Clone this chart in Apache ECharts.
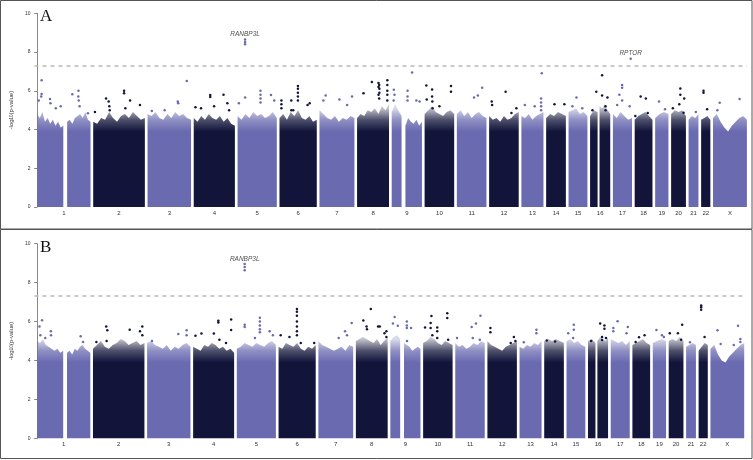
<!DOCTYPE html>
<html>
<head>
<meta charset="utf-8">
<script src="https://cdn.jsdelivr.net/npm/echarts@6/dist/echarts.min.js"></script>
<style>
  html, body { margin: 0; padding: 0; background: #fff; }
  #chart { width: 753px; height: 460px; }
</style>
</head>
<body>
<div id="chart"></div>
<script>
// chromosomes and the span of markers plotted on each (Mb)
const chromosomes = ['1','2','3','4','5','6','7','8','9','10','11','12','13','14','15','16','17','18','19','20','21','22','X'];
const chrLengthsMb = [249, 241, 203, 192, 183, 174, 163, 149, 141, 138, 138, 138, 103, 92, 88, 94, 89, 83, 62, 69, 46, 43, 158];
// stretches with no markers (centromeres), [chr, from Mb, to Mb]
const centromereGaps = [['1', 122, 140], ['9', 46, 64], ['16', 35, 44]];
const genomeWideThreshold = 7.3;
const yTicks = [0, 2, 4, 6, 8, 10];

// upper edge of the dense band of markers, per chromosome arm (1p,1q,2..8,9p,9q,10..15,16p,16q,17..22,X)
const bandTopA = [
  [4.8,4.6,4.9,4.4,4.6,4.3,4.5,4.2,4.4,4.1,4.2],
  [4.4,4.5,4.3,4.6,4.7,4.8,4.6,4.9,4.5,4.4],
  [4.4,4.3,4.6,4.5,4.9,4.6,4.4,4.7,4.8,4.6,4.9,4.7,4.5,4.6],
  [4.8,4.7,4.9,4.6,4.5,4.8,4.6,4.9,4.7,4.8,4.6,4.5],
  [4.6,4.4,4.7,4.5,4.8,4.6,4.5,4.7,4.4,4.6,4.3,4.2],
  [4.7,4.5,4.8,4.6,4.9,4.7,4.8,4.6,4.7,4.9,4.6],
  [4.6,4.8,4.5,4.9,4.7,5.0,4.6,4.5,4.7,4.4,4.5],
  [5.0,4.8,4.6,4.5,4.7,4.4,4.6,4.5,4.7,4.6],
  [4.6,4.8,4.7,5.0,4.9,5.1,4.8,5.2,5.0,5.3],
  [4.9,5.3,5.0,4.7],
  [4.2,4.6,4.4,4.3,4.5,4.2,4.4],
  [4.8,5.0,5.2,4.9,4.8,4.7,4.9,5.0,4.8],
  [4.8,5.0,4.7,4.9,4.6,4.8,4.9,4.7,4.6],
  [4.7,4.5,4.6,4.4,4.7,4.5,4.6,4.8,4.9],
  [4.7,4.6,4.8,4.5,4.7,4.8,4.9],
  [4.6,4.8,4.7,4.9,4.8,4.7],
  [4.9,5.0,5.1,4.8,4.9,4.7],
  [4.7,5.0,4.9],
  [5.2,5.1,5.3,5.0,4.8],
  [4.8,4.6,4.9,4.7,4.5,4.6],
  [4.5,4.7,4.8,4.9,4.7,4.5],
  [4.6,4.8,4.9,4.8],
  [4.8,5.0,4.9,5.0,4.7],
  [4.5,4.7,4.6,4.8],
  [4.5,4.6,4.7,4.5],
  [4.6,4.8,4.4,4.1,3.9,4.2,4.4,4.6,4.7,4.5]
];
const bandTopB = [
  [5.0,4.9,5.1,4.8,4.7,4.6,4.5,4.6,4.4,4.5],
  [4.4,4.5,4.3,4.6,4.5,4.7,4.8,4.6,4.5,4.4],
  [4.6,4.8,5.0,4.7,4.6,4.8,4.9,5.1,5.0,4.8,4.9,5.0,4.8,4.9],
  [4.9,5.0,4.8,4.7,4.6,4.8,4.5,4.7,4.6,4.8,4.9,4.7],
  [4.7,4.6,4.5,4.8,4.7,4.9,4.8,4.6,4.7,4.5,4.6,4.4],
  [4.6,4.7,4.9,4.8,4.7,4.9,4.8,4.7,4.9,5.0,4.8],
  [4.7,4.6,4.9,4.8,4.7,4.9,4.6,4.5,4.7,4.6,4.8],
  [5.0,4.8,4.7,4.6,4.5,4.6,4.7,4.5,4.8,4.7],
  [5.0,5.1,5.2,5.1,5.0,4.9,5.1,4.8,5.0,5.2],
  [5.0,5.2,5.3,5.1],
  [4.9,4.8,4.7,4.5,4.6,4.7,4.6],
  [4.9,5.0,5.2,5.1,4.9,4.8,5.0,4.9,4.8],
  [4.9,4.7,4.8,4.6,4.7,4.9,4.8,5.0,4.9],
  [5.0,4.8,4.7,4.6,4.5,4.7,4.8,4.9,5.0],
  [4.7,4.6,4.8,4.7,4.9,4.8,5.0],
  [5.0,5.1,5.0,5.1,5.0,4.9],
  [5.0,5.1,4.9,5.0,4.8,4.7],
  [5.0,5.1,4.9],
  [5.0,5.2,5.1,5.0,5.2],
  [5.1,5.0,4.9,5.0,4.8,5.0],
  [4.8,4.9,5.0,5.1,4.9,4.8],
  [4.9,5.0,5.1,5.0],
  [5.0,5.1,5.0,5.2,5.0],
  [4.7,4.8,4.9,4.8],
  [4.5,4.7,4.9,4.8],
  [4.6,4.8,4.3,4.0,3.9,4.2,4.4,4.6,4.8,4.9]
];

// markers standing above the band: [chr, position Mb, -log10(p)]
const hitsA = [
  ['1',21,6.55],['1',21,5.83],['1',19,5.7],['1',7.5,5.5],['1',60,5.58],['1',62,5.35],['1',87,5.1],['1',110,5.2],
  ['1',164,5.82],['1',193,6.0],['1',192,5.7],['1',194,5.5],['1',198,5.2],['1',237,4.84],
  ['2',8,4.9],['2',60,5.6],['2',72,5.45],['2',75,5.2],['2',77,5.0],['2',144,6.0],['2',144,5.87],['2',172,5.5],['2',218,5.27],['2',150,5.1],
  ['3',141,5.45],['3',143,5.35],['3',183,6.5],['3',20,4.95],['3',80,5.0],
  ['4',8,5.15],['4',34,5.1],['4',77,5.78],['4',77,5.68],['4',95,5.2],['4',139,5.8],['4',165,5.0],['4',157,5.35],
  ['5',35,8.65],['5',35,8.52],['5',35,8.4],['5',35,5.65],['5',107,6.0],['5',107,5.8],['5',107,5.6],['5',107,5.4],['5',156,5.78],['5',171,5.5],['5',6,5.35],
  ['6',9,5.5],['6',9,5.3],['6',9,5.1],['6',55,5.5],['6',55,5.0],['6',86,6.25],['6',86,6.1],['6',86,5.9],['6',86,5.7],['6',86,5.5],['6',131,5.27],['6',141,5.35],['6',64,5.0],
  ['7',29,5.75],['7',18,5.5],['7',93,5.55],['7',129,5.27],['7',152,5.7],
  ['8',30,5.87],['8',69,6.45],['8',100,6.4],['8',100,6.2],['8',100,5.8],['8',103,6.3],['8',104,6.1],['8',104,5.9],['8',103,5.6],
  ['8',141,6.55],['8',141,6.3],['8',141,6.0],['8',141,5.8],['8',141,5.5],
  ['9',10,6.05],['9',13,5.8],['9',9,5.5],['9',95,6.95],['9',74,6.0],['9',74,5.7],['9',74,5.5],['9',115,5.5],['9',130,5.45],
  ['10',8,6.27],['10',10,5.55],['10',35,6.07],['10',35,5.7],['10',36,5.45],['10',37,5.1],['10',69,5.2],['10',123,6.25],['10',123,5.95],
  ['11',80,5.65],['11',98,5.75],['11',118,6.15],
  ['12',12,5.45],['12',14,5.27],['12',77,5.95],['12',127,5.1],['12',104,4.85],
  ['13',95,6.9],['13',92,5.6],['13',92,5.4],['13',92,5.2],['13',92,5.0],['13',16,5.27],['13',62,5.2],
  ['14',39,5.3],['14',85,5.3],
  ['15',37,5.65],['15',18,5.2],['15',64,5.1],
  ['16',29,5.95],['16',11,5.0],['16',56,6.8],['16',56,5.75],['16',81,5.65],['16',72,5.2],['16',72,5.0],
  ['17',83,7.66],['17',43,6.3],['17',43,6.15],['17',30,5.8],['17',20,5.27],['17',43,5.5],['17',78,5.2],
  ['18',28,5.7],['18',52,5.6],['18',3,4.7],['18',61,4.85],
  ['19',18,5.45],['19',46,5.05],
  ['20',43,6.12],['20',43,5.8],['20',61,5.6],['20',8,5.1],['20',38,5.3],['20',58,4.87],
  ['21',34,4.9],
  ['22',11,6.0],['22',11,5.9],['22',28,5.05],
  ['X',31,5.38],['X',124,5.57],['X',20,5.0]
];
const hitsB = [
  ['1',23,6.06],['1',11,5.75],['1',15,5.3],['1',64,5.5],['1',65,5.3],['1',38,5.15],['1',204,5.24],['1',215,4.95],
  ['2',62,5.74],['2',67,5.55],['2',16,4.95],['2',172,5.58],['2',231,5.74],['2',231,5.3],['2',220,5.5],['2',64,5.0],
  ['3',146,5.36],['3',185,5.55],['3',185,5.3],['3',23,5.0],
  ['4',11,5.27],['4',39,5.38],['4',97,5.38],['4',118,6.04],['4',118,5.95],['4',178,6.1],['4',178,5.56],['4',123,5.07],['4',154,4.9],
  ['5',37,8.96],['5',37,8.8],['5',37,8.63],['5',37,5.84],['5',37,5.72],['5',108,6.2],['5',108,6.0],['5',108,5.8],['5',108,5.6],['5',108,5.45],
  ['5',85,5.15],['5',154,5.5],['5',169,5.3],
  ['6',86,6.65],['6',86,6.5],['6',86,6.3],['6',86,6.0],['6',86,5.75],['6',86,5.5],['6',86,5.3],['6',10,5.3],['6',51,5.2],['6',104,4.9],['6',167,4.9],
  ['7',156,5.92],['7',95,5.15],['7',125,5.5],['7',134,5.3],
  ['8',70,6.64],['8',35,6.05],['8',50,5.75],['8',52,5.6],['8',104,5.75],['8',112,5.75],['8',134,5.4],['8',143,5.5],['8',143,5.2],
  ['9',20,6.23],['9',35,5.79],['9',12,5.9],['9',77,6.0],['9',77,5.8],['9',77,5.67],['9',97,5.67],['9',78,5.0],
  ['10',39,6.28],['10',9,5.7],['10',35,5.92],['10',35,5.67],['10',66,5.7],['10',66,5.5],['10',66,5.15],['10',113,6.42],['10',113,6.18],['10',117,5.07],['10',43,5.3],
  ['11',118,6.3],['11',77,5.72],['11',97,5.9],['11',82,5.15],['11',8,5.15],['11',115,5.07],
  ['12',14,5.67],['12',14,5.45],['12',124,5.2],['12',131,5.0],['12',109,4.9],
  ['13',79,5.58],['13',79,5.4],['13',20,4.93],
  ['14',12,5.03],['14',51,4.97],
  ['15',34,5.84],['15',34,5.58],['15',8,5.4],['15',31,5.15],
  ['16',15,5.0],['16',57,5.9],['16',77,5.8],['16',77,5.63],['16',66,5.2],['16',66,5.05],['16',84,5.15],
  ['17',32,6.01],['17',12,5.67],['17',12,5.5],['17',80,5.72],['17',74,5.4],
  ['18',31,5.19],['18',57,5.29],['18',15,4.95],
  ['19',17,5.56],['19',43,5.3],['19',52,5.2],
  ['20',63,5.84],['20',5,5.4],['20',43,5.4],['20',58,5.07],
  ['21',18,4.93],
  ['22',12,6.83],['22',12,6.73],['22',12,6.6],['22',28,5.2],
  ['X',33,5.55],['X',129,5.79],['X',140,5.1],['X',140,4.95],['X',48,4.85],['X',109,4.8]
];
// annotated top signals: [gene, chr, position Mb, -log10(p)]
const genesA = [['RANBP3L','5',35,8.65], ['RPTOR','17',83,7.66]];
const genesB = [['RANBP3L','5',37,8.96]];

const CHR_GAP = 12.5;
const colors = ['#6a6ab0', '#12143a'];
const font = 'Liberation Sans, Arial, sans-serif';

const chrStarts = [];
let acc = 0;
chrLengthsMb.forEach(len => { chrStarts.push(acc); acc += len + CHR_GAP; });
const xMax = chrStarts[chrStarts.length - 1] + chrLengthsMb[chrLengthsMb.length - 1];
const chrCenters = chrStarts.map((s, i) => s + chrLengthsMb[i] / 2);

// split each chromosome into arms around marker-free stretches
const arms = [];
chromosomes.forEach((c, i) => {
  const gap = centromereGaps.find(g => g[0] === c);
  const s = chrStarts[i];
  if (gap) {
    arms.push([s, s + gap[1], i]);
    arms.push([s + gap[2], s + chrLengthsMb[i], i]);
  } else {
    arms.push([s, s + chrLengthsMb[i], i]);
  }
});

function toPoints(hits) {
  return hits.map(h => {
    const i = chromosomes.indexOf(h[0]);
    return [chrStarts[i] + h[1], h[2], i];
  });
}
function toGenes(genes) {
  return genes.map(g => {
    const i = chromosomes.indexOf(g[1]);
    return { name: g[0], value: [chrStarts[i] + g[2], g[3]] };
  });
}

function hexA(hex, a) {
  const n = parseInt(hex.slice(1), 16);
  return `rgba(${n >> 16},${(n >> 8) & 255},${n & 255},${a})`;
}

function bandRenderer(tops) {
  return function (params, api) {
    const x0 = api.value(0), x1 = api.value(1), chr = api.value(2);
    const t = tops[params.dataIndex];
    const pts = [api.coord([x0, 0])];
    t.forEach((v, k) => {
      pts.push(api.coord([x0 + (x1 - x0) * k / (t.length - 1), v]));
    });
    pts.push(api.coord([x1, 0]));
    const c = colors[chr % 2];
    // the top of the band is a loose speckle of markers, so it fades out
    const yHi = api.coord([0, 5.1])[1], yLo = api.coord([0, 3.9])[1];
    const fill = new echarts.graphic.LinearGradient(0, yHi, 0, yLo, [
      { offset: 0, color: hexA(c, 0.25) },
      { offset: 0.5, color: hexA(c, 0.75) },
      { offset: 1, color: c }
    ], true);
    return { type: 'polygon', shape: { points: pts }, style: { fill: fill } };
  };
}

function panelSeries(idx, tops, hits, genes) {
  return [
    {
      type: 'custom',
      xAxisIndex: idx, yAxisIndex: idx,
      data: arms,
      encode: { x: [0, 1], y: 2 },
      renderItem: bandRenderer(tops),
      silent: true
    },
    {
      type: 'scatter',
      xAxisIndex: idx, yAxisIndex: idx,
      data: toPoints(hits),
      symbolSize: 2.5,
      itemStyle: { color: p => colors[p.data[2] % 2], opacity: 1 },
      markLine: {
        silent: true,
        symbol: 'none',
        label: { show: false },
        lineStyle: { color: '#b8b8b8', type: [4, 4], width: 1.5 },
        data: [{ yAxis: genomeWideThreshold }]
      }
    },
    {
      type: 'scatter',
      xAxisIndex: idx, yAxisIndex: idx,
      data: toGenes(genes),
      symbolSize: 0,
      label: {
        show: true, position: 'top', distance: 1.5,
        formatter: '{b}', fontStyle: 'italic', fontSize: 6.5,
        fontFamily: font, color: '#222'
      }
    }
  ];
}

function xAxisFor(idx) {
  return {
    type: 'value', gridIndex: idx, min: -CHR_GAP, max: xMax,
    axisLine: { show: false }, axisTick: { show: false }, splitLine: { show: false },
    axisLabel: {
      customValues: chrCenters,
      formatter: v => {
        const i = chrCenters.findIndex(c => Math.abs(c - v) < 0.01);
        return i >= 0 ? chromosomes[i] : '';
      },
      fontSize: 6, color: '#333', fontFamily: font, margin: 3
    }
  };
}
function yAxisFor(idx) {
  return {
    type: 'value', gridIndex: idx, min: yTicks[0], max: yTicks[yTicks.length - 1], interval: 2,
    name: '-log{sub|10}(p-value)', nameLocation: 'middle', nameGap: 12,
    nameTextStyle: {
      fontSize: 6, color: '#333', fontFamily: font,
      rich: { sub: { fontSize: 4.5, verticalAlign: 'bottom', color: '#333', fontFamily: font } }
    },
    axisLine: { show: true, lineStyle: { color: '#888', width: 1 } },
    axisTick: { show: true, length: 3, lineStyle: { color: '#888' } },
    splitLine: { show: false },
    axisLabel: { fontSize: 5, color: '#333', fontFamily: font, margin: 4 }
  };
}

const chart = echarts.init(document.getElementById('chart'));
chart.setOption({
  animation: false,
  backgroundColor: '#fff',
  grid: [
    { left: 25, width: 721.9, top: 13.3, height: 193.7 },
    { left: 22.3, width: 721.9, top: 243.7, height: 194.6 }
  ],
  xAxis: [xAxisFor(0), xAxisFor(1)],
  yAxis: [yAxisFor(0), yAxisFor(1)],
  series: [
    ...panelSeries(0, bandTopA, hitsA, genesA),
    ...panelSeries(1, bandTopB, hitsB, genesB)
  ],
  graphic: [
    { type: 'rect', shape: { x: 0.5, y: 0.5, width: 751.5, height: 228.5 },
      style: { fill: 'none', stroke: '#555', lineWidth: 1 }, silent: true },
    { type: 'rect', shape: { x: 0.5, y: 229.5, width: 751.5, height: 229 },
      style: { fill: 'none', stroke: '#555', lineWidth: 1 }, silent: true },
    { type: 'text', left: 40, top: 8,
      style: { text: 'A', font: '17px "Liberation Serif", "DejaVu Serif", serif', fill: '#111' } },
    { type: 'text', left: 40, top: 239,
      style: { text: 'B', font: '17px "Liberation Serif", "DejaVu Serif", serif', fill: '#111' } }
  ]
});
</script>
</body>
</html>
